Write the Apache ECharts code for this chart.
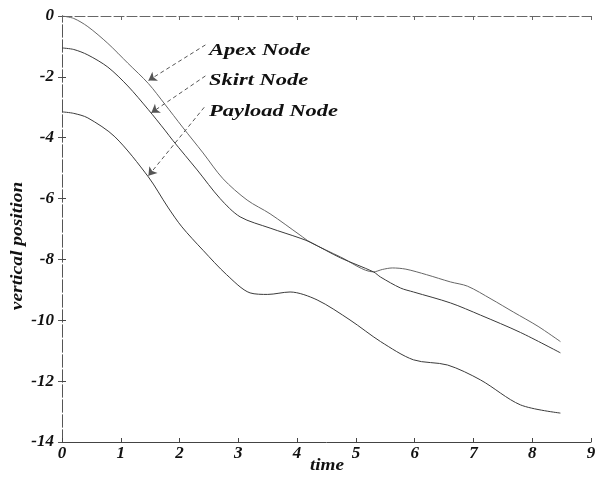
<!DOCTYPE html>
<html>
<head>
<meta charset="utf-8">
<script src="https://cdn.jsdelivr.net/npm/echarts@6/dist/echarts.min.js"></script>
<style>html,body{margin:0;padding:0;background:#fff}#c{width:608px;height:480px}</style>
</head>
<body>
<div id="c"></div>
<script>
var xTicks = [0,1,2,3,4,5,6,7,8,9];
var yTicks = [0,-2,-4,-6,-8,-10,-12,-14];

var apexT = [0,0.2,0.44,0.78,1.12,1.47,1.75,2.05,2.4,2.74,3.15,3.54,4.05,4.22,4.74,5.3,5.45,5.62,5.85,6.2,6.61,6.9,7.3,7.68,8.1,8.48];
var apexY = [0,-0.08,-0.35,-0.9,-1.55,-2.22,-2.9,-3.65,-4.5,-5.35,-6.05,-6.5,-7.2,-7.43,-7.92,-8.41,-8.33,-8.28,-8.32,-8.5,-8.74,-8.88,-9.3,-9.73,-10.2,-10.7];

var skirtT = [0,0.2,0.44,0.78,1.12,1.47,1.75,1.89,2.3,2.69,3.03,3.54,4.05,4.22,4.74,5.3,5.42,5.76,5.98,6.61,7.12,7.8,8.48];
var skirtY = [-1.05,-1.1,-1.28,-1.68,-2.3,-3.08,-3.75,-4.1,-5.06,-6.0,-6.6,-6.97,-7.3,-7.43,-7.95,-8.41,-8.58,-8.94,-9.07,-9.43,-9.83,-10.4,-11.07];

var payloadT = [0,0.2,0.44,0.9,1.47,1.8,2.04,2.4,2.8,3.2,3.5,3.88,4.34,4.9,5.42,5.98,6.56,7.12,7.8,8.48];
var payloadY = [-3.15,-3.2,-3.35,-3.97,-5.29,-6.28,-6.93,-7.7,-8.5,-9.1,-9.15,-9.07,-9.33,-9.99,-10.7,-11.3,-11.47,-11.96,-12.78,-13.05];

var labelNames = ['Apex Node','Skirt Node','Payload Node'];
var xName = 'time';
var yName = 'vertical position';
var pointerFrom = [[2.44,-0.95],[2.44,-1.97],[2.42,-3.0]];
var pointerTo = [[1.47,-2.12],[1.52,-3.18],[1.47,-5.25]];

function pairs(t, y){ return t.map(function(v,i){ return [v, y[i]]; }); }

var font = 'Liberation Serif';
var chart = echarts.init(document.getElementById('c'), null, {renderer:'canvas'});

function pointer(i){
  return {
    silent: true,
    symbol: ['none','arrow'],
    symbolSize: 8,
    itemStyle: {color:'#222'},
    label: {show:false},
    lineStyle: {color:'#555', type:[4,3], width:1},
    data: [[{coord: pointerFrom[i]}, {coord: pointerTo[i]}]]
  };
}

var lineColor = '#3a3a3a';
var tickFont = {color:'#111', fontFamily:font, fontStyle:'italic', fontWeight:'bold', fontSize:17};
chart.setOption({
  animation: false,
  grid: {left:62, right:17, top:16, bottom:38, show:false},
  xAxis: [{
    type:'value', min:0, max:9, interval:1, position:'bottom',
    axisLine:{show:true, onZero:false, lineStyle:{color:'#444', width:1}},
    axisTick:{show:true, inside:true, length:4, lineStyle:{color:'#444'}},
    splitLine:{show:false},
    axisLabel:Object.assign({margin:3}, tickFont)
  },{
    type:'value', min:0, max:9, interval:1, position:'top',
    axisLine:{show:true, lineStyle:{color:'#666', width:1, type:[10,3]}},
    axisTick:{show:true, inside:true, length:4, lineStyle:{color:'#666'}},
    axisLabel:{show:false}, splitLine:{show:false}
  }],
  yAxis: [{
    type:'value', min:-14, max:0, interval:2, position:'left',
    axisLine:{show:true, onZero:false, lineStyle:{color:'#555', width:1, type:[12,3]}},
    axisTick:{show:true, inside:true, length:4, lineStyle:{color:'#444'}},
    splitLine:{show:false},
    axisLabel:Object.assign({margin:8,
      formatter:function(v){ return yTicks.indexOf(v) >= 0 ? String(v) : ''; }}, tickFont)
  },{
    type:'value', min:-14, max:0, interval:2, position:'right',
    axisLine:{show:true, lineStyle:{color:'#555', width:1, type:[12,3]}},
    axisTick:{show:true, inside:true, length:4, lineStyle:{color:'#555'}},
    axisLabel:{show:false}, splitLine:{show:false}
  }],
  series: [
    {name:labelNames[0], type:'line', data:pairs(apexT, apexY), smooth:0.3, showSymbol:false,
      lineStyle:{color:'#666', width:1}, markLine: pointer(0)},
    {name:labelNames[1], type:'line', data:pairs(skirtT, skirtY), smooth:0.3, showSymbol:false,
      lineStyle:{color:lineColor, width:1}, markLine: pointer(1)},
    {name:labelNames[2], type:'line', data:pairs(payloadT, payloadY), smooth:0.3, showSymbol:false,
      lineStyle:{color:lineColor, width:1}, markLine: pointer(2)}
  ],
  graphic: labelNames.map(function(n, i){
    return {type:'text', x:209, y:[42,72,103][i], scaleX:1.32,
      style:{text:n, fill:'#111', font:'italic bold 17px "Liberation Serif"', textVerticalAlign:'top'}};
  }).concat([
    {type:'text', x:327, y:466, scaleX:1.2,
      style:{text:xName, fill:'#111', font:'italic bold 16px "Liberation Serif"', textAlign:'center', textVerticalAlign:'middle'}},
    {type:'text', x:18, y:246, rotation:Math.PI/2, scaleX:1.22,
      style:{text:yName, fill:'#111', font:'italic bold 16px "Liberation Serif"', textAlign:'center', textVerticalAlign:'middle'}}
  ])
});
</script>
</body>
</html>
